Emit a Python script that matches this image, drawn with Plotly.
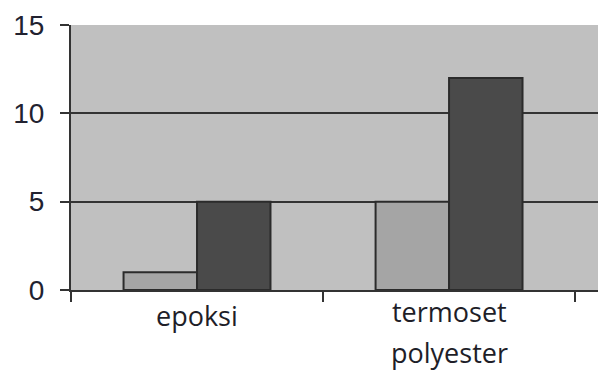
import plotly.graph_objects as go

categories = ["epoksi", "termoset polyester"]
label_lines = [["epoksi"], ["termoset", "polyester"]]
series_light = [1, 5]
series_dark = [5, 12]
y_ticks = [0, 5, 10, 15]

fig = go.Figure()
fig.add_trace(go.Bar(x=categories, y=series_light, marker=dict(color="#A5A5A5", line=dict(color="#2B2B2B", width=2))))
fig.add_trace(go.Bar(x=categories, y=series_dark, marker=dict(color="#4A4A4A", line=dict(color="#2B2B2B", width=2))))

# category labels (multi-line, wide spacing)
line_y = {0: [-0.098], 1: [-0.08, -0.235]}
for i, lines in enumerate(label_lines):
    for j, t in enumerate(lines):
        fig.add_annotation(x=categories[i], xref="x", y=line_y[i][j], yref="paper",
                           text=t, showarrow=False, yanchor="middle", xanchor="center",
                           font=dict(family="Open Sans", size=27, color="#1E1E28"))

fig.update_layout(
    width=598, height=374,
    margin=dict(l=71, r=0, t=25, b=84, autoexpand=False),
    paper_bgcolor="white", plot_bgcolor="#C0C0C0",
    barmode="group", bargap=0.417, bargroupgap=0,
    showlegend=False,
    xaxis=dict(range=[-0.5, 1.591], showticklabels=False, tickson="boundaries",
               ticks="outside", ticklen=10, tickwidth=2, tickcolor="#333333",
               showline=True, linecolor="#333333", linewidth=2, showgrid=False,
               automargin=False),
    yaxis=dict(range=[0, 15], tickvals=y_ticks, ticks="outside", ticklen=9, tickwidth=2,
               tickcolor="#333333", showline=True, linecolor="#333333", linewidth=2,
               showgrid=True, gridcolor="#333333", gridwidth=2, zeroline=False,
               tickfont=dict(family="Liberation Sans", size=28, color="#222230"),
               ticklabelstandoff=10, automargin=False),
)
fig.write_html("out.html", config={"displayModeBar": False},
               post_script="document.body.style.margin='0';document.body.style.overflow='hidden';")
